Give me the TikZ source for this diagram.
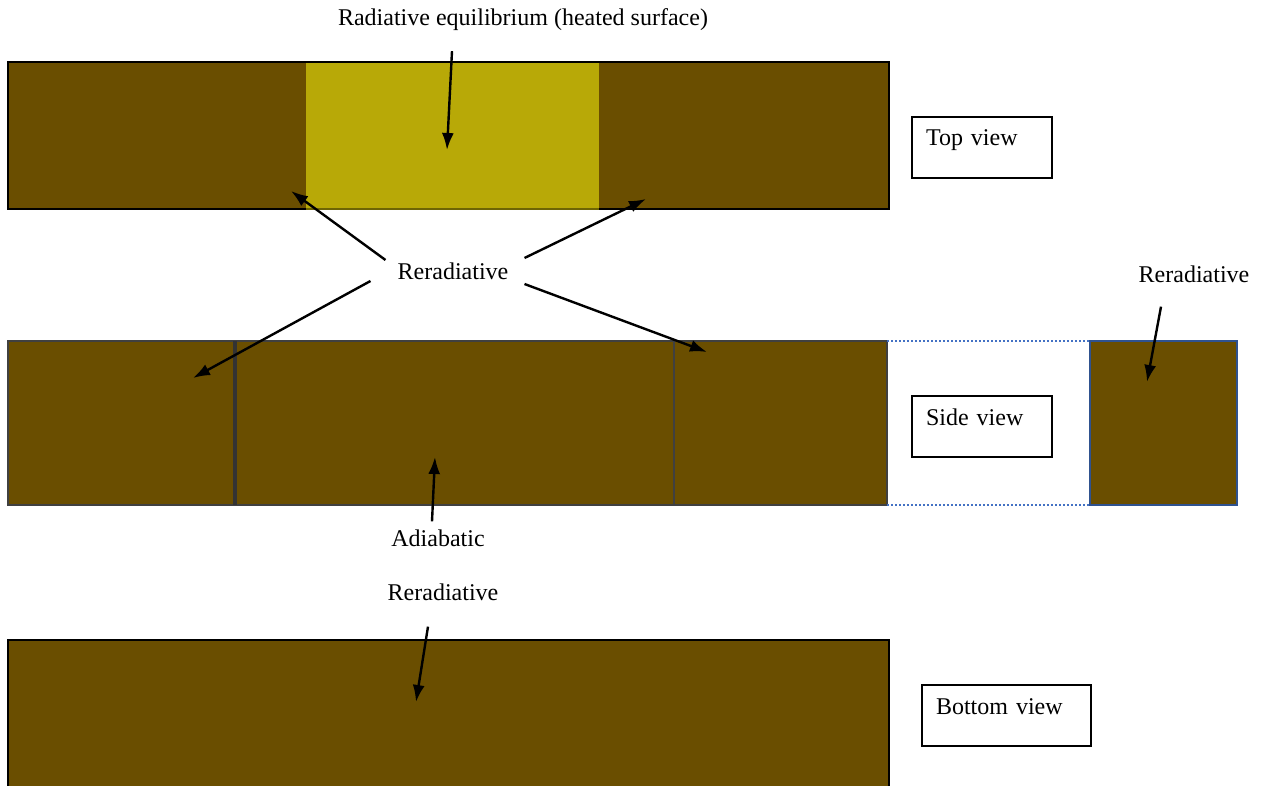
\documentclass[tikz,border=0pt]{standalone}
\usepackage{fontspec}
\setmainfont{Liberation Serif}
\usetikzlibrary{arrows.meta, calc}

\definecolor{soil}{RGB}{106,78,0}
\definecolor{heat}{RGB}{184,169,7}
\definecolor{edgegray}{RGB}{64,64,64}
\definecolor{edgeblue}{RGB}{47,82,143}
\definecolor{dotblue}{RGB}{68,114,196}

\begin{document}
\begin{tikzpicture}[x=1pt, y=-1pt,
    lbl/.style={font=\fontsize{24}{28}\selectfont, inner sep=2pt},
    viewbox/.style={draw=black, line width=2pt, anchor=north west, align=left, inner xsep=14pt, inner ysep=0pt, text height=29pt, text depth=32pt, font=\fontsize{24}{28}\selectfont},
    arrow/.style={-{Latex[length=17pt,width=12pt]}, line width=2.4pt, draw=black},
    bar/.style={fill=soil, draw=black, line width=2.5pt},
    sidebar/.style={fill=soil, draw=edgegray, line width=2.5pt}
]
    \useasboundingbox (0,0) rectangle (1269,786);

    % Top view
    \fill[soil] (8,62) rectangle (889,209);
    \fill[heat] (306,62) rectangle (599,209);
    \draw[line width=2.5pt] (8,62) rectangle (889,209);
    \draw[line width=2.5pt, heat!60!black] (306,209) -- (599,209);
    \node[viewbox, text width=112pt] (topv) at (911,116) {Top view};

    % Side view
    \filldraw[sidebar] (8,341) rectangle (887,505);
    \draw[line width=3.5pt, edgegray!80!black] (235,341) -- (235,505);
    \draw[line width=2.5pt, edgegray] (674,341) -- (674,505);
    \draw[dotblue, dotted, line width=2pt] (887,341) -- (1090,341);
    \draw[dotblue, dotted, line width=2pt] (887,505) -- (1090,505);
    \filldraw[fill=soil, draw=edgeblue, line width=2.5pt] (1090,341) rectangle (1237,505);
    \node[viewbox, text width=112pt] (sidev) at (911,395) {Side view};

    % Bottom view
    \fill[soil] (8,640) rectangle (889,790);
    \draw[line width=2.5pt] (8,790) -- (8,640) -- (889,640) -- (889,790);
    \node[viewbox, text width=141pt] (botv) at (921,684) {Bottom view};

    % Labels
    \node[lbl] (title) at (523,20) {Radiative equilibrium (heated surface)};
    \node[lbl] (rerad) at (453,271) {Reradiative};
    \node[lbl] (reradE) at (1194,274) {Reradiative};
    \node[lbl] (adia) at (438,538) {Adiabatic};
    \node[lbl] (reradB) at (443,592) {Reradiative};

    \coordinate (heated) at (447,150);
    \coordinate (topL) at (291,191);
    \coordinate (topR) at (646,199);
    \coordinate (sideL) at (193,378);
    \coordinate (sideR) at (707,352);
    \coordinate (sideE) at (1147,382);
    \coordinate (sideM) at (435,457);
    \coordinate (bottom) at (416,702);

    % Arrows
    \draw[arrow] ($(title.south)+(-71,18)$) -- (heated);
    \draw[arrow] ($(rerad.west)+(-10,-11)$) -- (topL);
    \draw[arrow] ($(rerad.east)+(14,-13)$) -- (topR);
    \draw[arrow] ($(rerad.west)+(-25,10)$) -- (sideL);
    \draw[arrow] ($(rerad.east)+(14,13)$) -- (sideR);
    \draw[arrow] ($(reradE.south)+(-33,22)$) -- (sideE);
    \draw[arrow] ($(adia.north)+(-6,-6)$) -- (sideM);
    \draw[arrow] ($(reradB.south)+(-15,24)$) -- (bottom);
\end{tikzpicture}
\end{document}
